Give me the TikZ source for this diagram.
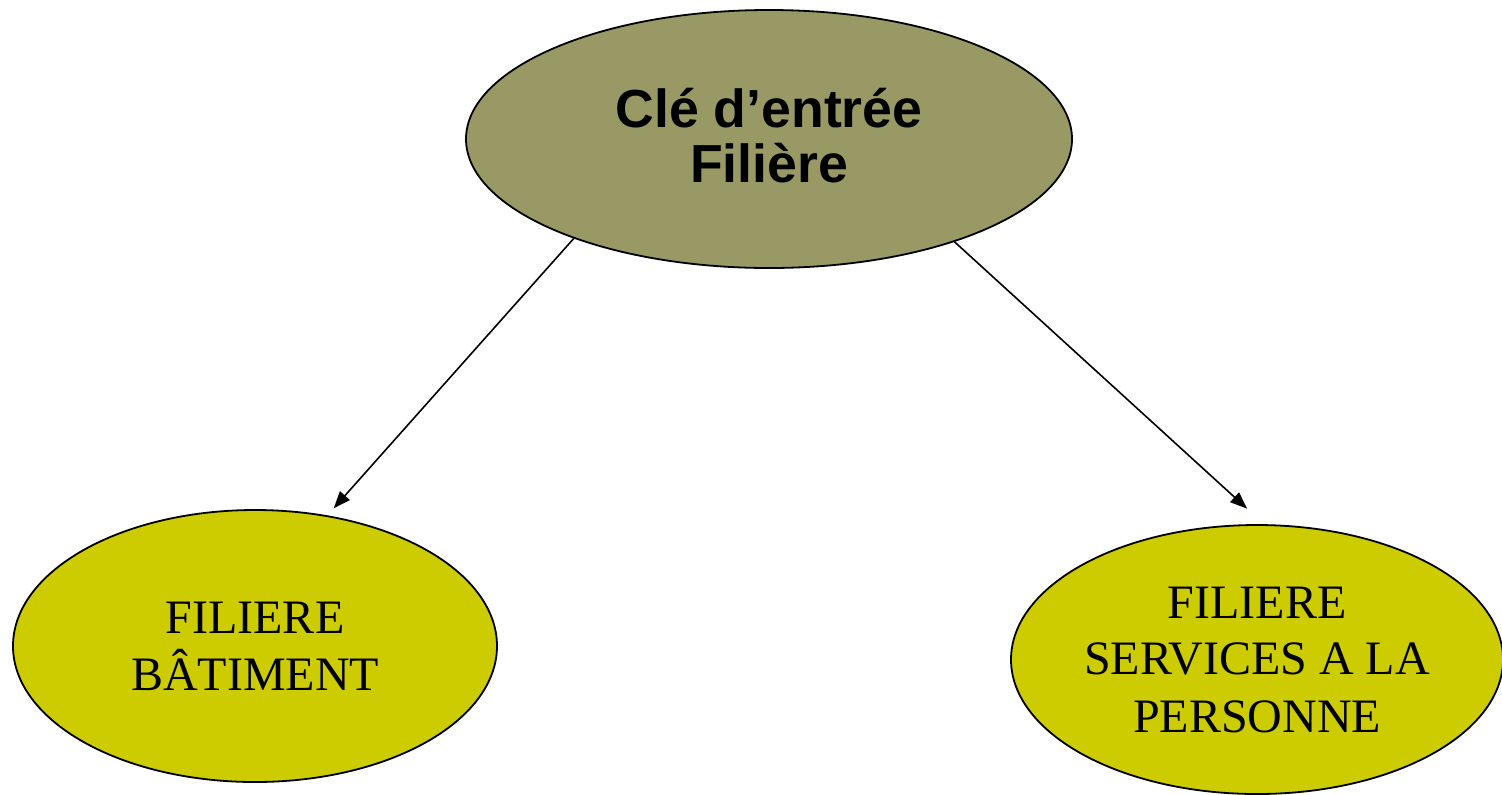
\documentclass[tikz,border=0pt]{standalone}
\usepackage{fontspec}
\setmainfont{Liberation Serif}
\newfontfamily\arialfont{Liberation Sans}
\usetikzlibrary{arrows.meta, shapes.geometric}

\begin{document}
\begin{tikzpicture}[x=0.5pt, y=-0.5pt,
    cle/.style={draw, ellipse, line width=0.9pt, fill=olivefill, inner sep=0pt,
      minimum width=303pt, minimum height=129pt, align=center, text depth=4pt,
      font=\arialfont\bfseries\fontsize{26.8}{27.5}\selectfont},
    filiere/.style={draw, ellipse, line width=0.9pt, fill=yellowfill, inner sep=0pt,
      align=center, font=\fontsize{24}{28.5}\selectfont},
    fleche/.style={line width=0.8pt, -{Triangle[length=8.5pt, width=6.5pt]}}]

\definecolor{olivefill}{HTML}{999966}
\definecolor{yellowfill}{HTML}{CCCC00}

\useasboundingbox (0,0) rectangle (1502,794);

% Key node on top
\node[cle] (cle) at (769,139) {Clé d’entrée\\Filière};

% The two branches
\node[filiere, minimum width=242pt, minimum height=136pt] (batiment) at (255,646)
  {FILIERE\\BÂTIMENT};
\node[filiere, minimum width=246pt, minimum height=134.5pt] (services) at (1257,659.5)
  {FILIERE\\SERVICES A LA\\PERSONNE};

% Connections
\draw[fleche, shorten >=4.7pt] (cle.207.3) -- (batiment.61.5);
\draw[fleche, shorten >=11.5pt] (cle.331.5) -- (services.87.3);

\end{tikzpicture}
\end{document}
